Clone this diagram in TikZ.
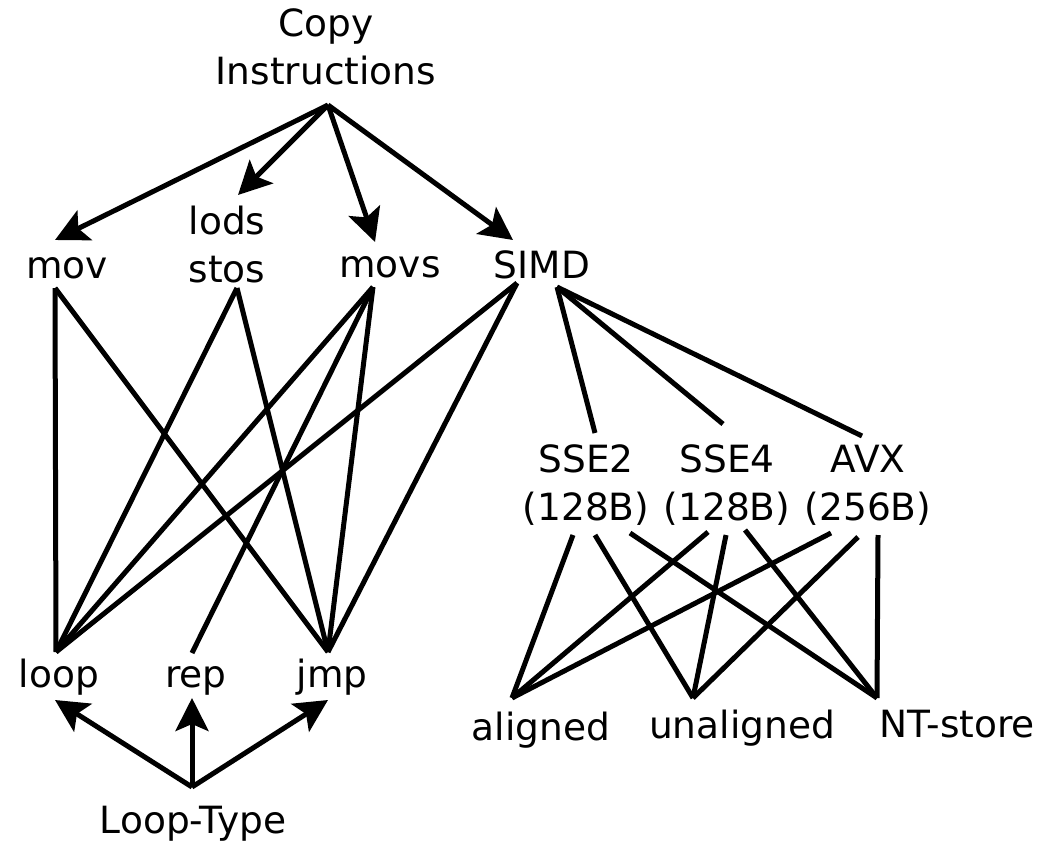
\documentclass[tikz,border=0pt]{standalone}
\usepackage{fontspec}
\setmainfont{DejaVu Sans}
\usetikzlibrary{arrows.meta}
\begin{document}
\begin{tikzpicture}[x=1pt,y=-1pt,
  lbl/.style={font=\fontsize{37.5}{48}\selectfont, inner sep=0pt, anchor=base, align=center},
  edge/.style={line width=5pt, line join=round},
  arr/.style={line width=5pt, -{Stealth[length=33pt,width=33pt,inset=7pt]}}]
\useasboundingbox (0,0) rectangle (1048,842);
% labels (anchor = baseline of the last line)
\node[lbl] (copy) at (326,85) {Copy\\Instructions};
\node[lbl] (mov) at (67,278) {mov};
\node[lbl] (lods) at (227,282) {lods\\stos};
\node[lbl] (movs) at (390,277) {movs};
\node[lbl] (simd) at (542,278) {SIMD};
\node[lbl] (loop) at (59,687) {loop};
\node[lbl] (rep) at (196,687) {rep};
\node[lbl] (jmp) at (332,687) {jmp};
\node[lbl] (lt) at (193,833) {Loop-Type};
\node[lbl] (sse2) at (586,520) {SSE2\\(128B)};
\node[lbl] (sse4) at (727,520) {SSE4\\(128B)};
\node[lbl] (avx) at (868,520) {AVX\\(256B)};
\node[lbl] (al) at (541,740) {aligned};
\node[lbl] (un) at (742,738) {unaligned};
\node[lbl] (nt) at (957,737) {NT-store};
% attach points
\coordinate (copy-s) at (328,105);
\coordinate (mov-n) at (55,240);
\coordinate (lods-n) at (238,195);
\coordinate (movs-n) at (375,242);
\coordinate (simd-n) at (513,240);
\coordinate (mov-s) at (55,288);
\coordinate (stos-s) at (237,288);
\coordinate (movs-s) at (373,287);
\coordinate (simd-sw) at (517,283);
\coordinate (simd-se) at (557,287);
\coordinate (loop-n) at (56,652);
\coordinate (rep-n) at (192,653);
\coordinate (jmp-n) at (328,652);
\coordinate (loop-s) at (55,700);
\coordinate (rep-s) at (192,698);
\coordinate (jmp-s) at (328,700);
\coordinate (lt-n) at (192,787);
\coordinate (sse2-n) at (595,433);
\coordinate (sse4-n) at (723,424);
\coordinate (avx-n) at (862,436);
\coordinate (sse2-s1) at (573,535);
\coordinate (sse2-s2) at (595,535);
\coordinate (sse2-s3) at (630,533);
\coordinate (sse4-s1) at (708,532);
\coordinate (sse4-s2) at (726,535);
\coordinate (sse4-s3) at (745,530);
\coordinate (avx-s1) at (831,533);
\coordinate (avx-s2) at (858,537);
\coordinate (avx-s3) at (878,535);
\coordinate (al-n) at (512,698);
\coordinate (un-n) at (693,698);
\coordinate (nt-n) at (877,698);
% arrows from Copy Instructions
\draw[arr] (copy-s) -- (mov-n);
\draw[arr] (copy-s) -- (lods-n);
\draw[arr] (copy-s) -- (movs-n);
\draw[arr] (copy-s) -- (simd-n);
% arrows from Loop-Type
\draw[arr] (lt-n) -- (loop-s);
\draw[arr] (lt-n) -- (rep-s);
\draw[arr] (lt-n) -- (jmp-s);
% instruction to loop type
\draw[edge] (mov-s) -- (loop-n);
\draw[edge] (mov-s) -- (jmp-n);
\draw[edge] (stos-s) -- (loop-n);
\draw[edge] (stos-s) -- (jmp-n);
\draw[edge] (movs-s) -- (loop-n);
\draw[edge] (movs-s) -- (rep-n);
\draw[edge] (movs-s) -- (jmp-n);
\draw[edge] (simd-sw) -- (loop-n);
\draw[edge] (simd-sw) -- (jmp-n);
% SIMD to extensions
\draw[edge] (simd-se) -- (sse2-n);
\draw[edge] (simd-se) -- (sse4-n);
\draw[edge] (simd-se) -- (avx-n);
% extensions to store kinds
\draw[edge] (sse2-s1) -- (al-n);
\draw[edge] (sse2-s2) -- (un-n);
\draw[edge] (sse2-s3) -- (nt-n);
\draw[edge] (sse4-s1) -- (al-n);
\draw[edge] (sse4-s2) -- (un-n);
\draw[edge] (sse4-s3) -- (nt-n);
\draw[edge] (avx-s1) -- (al-n);
\draw[edge] (avx-s2) -- (un-n);
\draw[edge] (avx-s3) -- (nt-n);
\end{tikzpicture}
\end{document}
